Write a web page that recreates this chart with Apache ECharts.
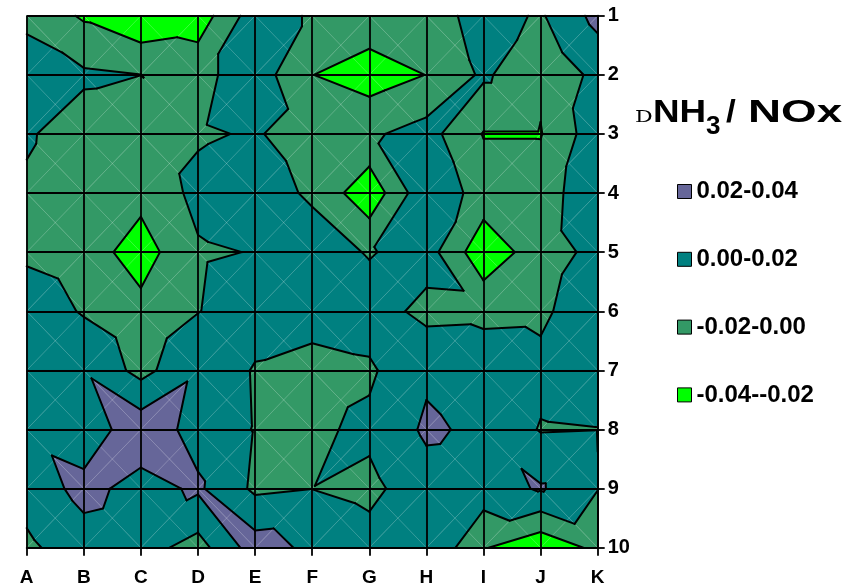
<!DOCTYPE html>
<html>
<head>
<meta charset="utf-8">
<script src="https://cdn.jsdelivr.net/npm/echarts@6/dist/echarts.min.js"></script>
<style>
  html, body { margin: 0; padding: 0; background: #ffffff; }
  #chart { width: 852px; height: 585px; }
</style>
</head>
<body>
<div id="chart"></div>
<script>
// Grid axes
const columns = ['A', 'B', 'C', 'D', 'E', 'F', 'G', 'H', 'I', 'J', 'K'];
const rows = [1, 2, 3, 4, 5, 6, 7, 8, 9, 10];

// dNH3 / NOx at each grid node, one array per row (columns A..K)
const r1  = [-0.005, -0.0226, -0.037, -0.0315, 0.011, -0.0024, -0.0073, -0.01, 0.0082, -0.0023, 0.0263];
const r2  = [0.011, 0.003, 0.0001, -0.006, 0.011, -0.0197, -0.03, -0.0197, 0.0033, -0.016, 0.0053];
const r3  = [0.002, -0.009, -0.01, -0.002, 0.0015, -0.008, -0.003, 0.0077, -0.021, -0.021, 0.0123];
const r4  = [-0.0026, -0.01, -0.014, 0.0049, 0.0095, -0.003, -0.0339, 0.0157, -0.0085, -0.01, 0.015];
const r5  = [-0.004, -0.0103, -0.029, -0.002, 0.0006, 0.01, -0.0015, 0.009, -0.034, -0.0085, 0.005];
const r6  = [0.0127, -0.0019, -0.0142, -0.0006, 0.01, 0.008, 0.01, -0.0059, -0.0048, -0.004, 0.0142];
const r7  = [0.012, 0.018, -0.0063, 0.017, -0.0017, -0.0068, -0.003, 0.017, 0.0112, 0.0055, 0.008];
const r8  = [0.0152, 0.0076, 0.033, 0.0125, -0.001, -0.0036, 0.0041, 0.023, 0.016, -0.0012, -0.0003];
const r9  = [0.0081, 0.0261, 0.0128, 0.023, -0.0037, -0.0002, -0.005, 0.012, 0.0107, 0.022, 0.0005];
const r10 = [-0.004, 0.0114, 0.008, -0.0079, 0.0298, 0.0152, 0.0078, 0.0193, -0.0185, -0.0352, -0.0149];

// Contour bands (top of legend first)
const bandLabels = ['0.02-0.04', '0.00-0.02', '-0.02-0.00', '-0.04--0.02'];
const bandRanges = [[0.02, 0.04], [0.00, 0.02], [-0.02, 0.00], [-0.04, -0.02]];
const bandColors = ['#666699', '#008080', '#339966', '#00FF00'];
const levels = [-0.02, 0.00, 0.02];

const grid = [r1, r2, r3, r4, r5, r6, r7, r8, r9, r10];

// one data item per grid cell: [column index, row number of its top edge]
const cells = [];
for (let r = 0; r < rows.length - 1; r++) {
  for (let c = 0; c < columns.length - 1; c++) cells.push([c, rows[r]]);
}

// Corner nodes of a cell as [x, y, value], split into two triangles along
// the diagonal whose end values have the higher mean.
function cellTriangles(c, r) {
  const tl = [c, rows[r], grid[r][c]];
  const tr = [c + 1, rows[r], grid[r][c + 1]];
  const bl = [c, rows[r + 1], grid[r + 1][c]];
  const br = [c + 1, rows[r + 1], grid[r + 1][c + 1]];
  if (tl[2] + br[2] >= tr[2] + bl[2]) return [[tl, tr, br], [tl, bl, br]];
  return [[tl, tr, bl], [tr, br, bl]];
}

// Sutherland-Hodgman clip of a polygon against value >= level (or <= level)
function clipPoly(poly, level, keepAbove) {
  const out = [];
  for (let i = 0; i < poly.length; i++) {
    const a = poly[i], b = poly[(i + 1) % poly.length];
    const ina = keepAbove ? a[2] >= level : a[2] <= level;
    const inb = keepAbove ? b[2] >= level : b[2] <= level;
    if (ina) out.push(a);
    if (ina !== inb) {
      const t = (level - a[2]) / (b[2] - a[2]);
      out.push([a[0] + t * (b[0] - a[0]), a[1] + t * (b[1] - a[1]), level]);
    }
  }
  return out;
}

function bandRenderer(b) {
  const lo = b === bandRanges.length - 1 ? -Infinity : bandRanges[b][0];
  const hi = b === 0 ? Infinity : bandRanges[b][1];
  return function (params, api) {
    const c = api.value(0), r = api.value(1) - 1;
    const children = [];
    cellTriangles(c, r).forEach(function (tri) {
      let poly = clipPoly(tri, lo, true);
      if (poly.length) poly = clipPoly(poly, hi, false);
      if (poly.length >= 3) {
        children.push({
          type: 'polygon',
          shape: { points: poly.map(p => api.coord([p[0], p[1]])) },
          style: { fill: bandColors[b], stroke: bandColors[b], lineWidth: 0.7 }
        });
      }
    });
    return { type: 'group', children: children };
  };
}

// faint X across every cell
function diagonalRenderer(params, api) {
  const c = api.value(0), y = api.value(1);
  const p1 = api.coord([c, y]), p2 = api.coord([c + 1, y + 1]);
  const p3 = api.coord([c + 1, y]), p4 = api.coord([c, y + 1]);
  const style = { stroke: 'rgba(255,255,255,0.28)', lineWidth: 0.8 };
  return {
    type: 'group',
    children: [
      { type: 'line', shape: { x1: p1[0], y1: p1[1], x2: p2[0], y2: p2[1] }, style: style },
      { type: 'line', shape: { x1: p3[0], y1: p3[1], x2: p4[0], y2: p4[1] }, style: style }
    ]
  };
}

// iso-lines at each band boundary
function contourRenderer(params, api) {
  const c = api.value(0), r = api.value(1) - 1;
  const children = [];
  cellTriangles(c, r).forEach(function (tri) {
    levels.forEach(function (L) {
      const pts = [];
      for (let i = 0; i < 3; i++) {
        const a = tri[i], b = tri[(i + 1) % 3];
        if ((a[2] < L) !== (b[2] < L)) {
          const t = (L - a[2]) / (b[2] - a[2]);
          pts.push(api.coord([a[0] + t * (b[0] - a[0]), a[1] + t * (b[1] - a[1])]));
        }
      }
      if (pts.length === 2) {
        children.push({
          type: 'line',
          shape: { x1: pts[0][0], y1: pts[0][1], x2: pts[1][0], y2: pts[1][1] },
          style: { stroke: '#000000', lineWidth: 2, lineCap: 'round' }
        });
      }
    });
  });
  return { type: 'group', children: children };
}

const bandSeries = bandLabels.map(function (name, b) {
  return {
    type: 'custom',
    name: name,
    coordinateSystem: 'cartesian2d',
    renderItem: bandRenderer(b),
    data: cells,
    itemStyle: { color: bandColors[b] },
    silent: true,
    z: 1
  };
});

const labelFont = 'Liberation Sans';
const titleFont = 'bold 32px "Liberation Sans"';

const chart = echarts.init(document.getElementById('chart'), null, { renderer: 'canvas' });
chart.setOption({
  animation: false,
  backgroundColor: '#ffffff',
  grid: {
    left: 26.7, right: 254.3, top: 15.7, bottom: 37.3,
    containLabel: false, outerBoundsMode: 'none'
  },
  xAxis: {
    type: 'value', min: 0, max: columns.length - 1, interval: 1, position: 'bottom', z: 10,
    axisLine: { show: true, onZero: false, lineStyle: { color: '#000', width: 1.8 } },
    axisTick: { show: true, inside: false, length: 8, lineStyle: { color: '#000', width: 1.8 } },
    axisLabel: {
      show: true, showMinLabel: true, showMaxLabel: true, margin: 21,
      formatter: function (v) { return columns[v] || ''; },
      color: '#000', fontSize: 19, fontWeight: 'bold', fontFamily: labelFont
    },
    splitLine: { show: true, lineStyle: { color: '#000', width: 1.8 } }
  },
  yAxis: {
    type: 'value', min: rows[0], max: rows[rows.length - 1], interval: 1, inverse: true,
    position: 'right', z: 10,
    axisLine: { show: true, onZero: false, lineStyle: { color: '#000', width: 1.8 } },
    axisTick: { show: true, inside: false, length: 7, lineStyle: { color: '#000', width: 1.8 } },
    axisLabel: {
      show: true, showMinLabel: true, showMaxLabel: true, margin: 10,
      color: '#000', fontSize: 20, fontWeight: 'bold', fontFamily: labelFont
    },
    splitLine: { show: true, lineStyle: { color: '#000', width: 1.8 } }
  },
  legend: {
    data: bandLabels,
    orient: 'vertical',
    left: 677, top: 179.5, padding: 0,
    itemWidth: 14, itemHeight: 14, itemGap: 43.8,
    icon: 'rect',
    selectedMode: false,
    itemStyle: { borderColor: '#000', borderWidth: 1 },
    textStyle: { color: '#000', fontSize: 24, fontWeight: 'bold', fontFamily: labelFont, lineHeight: 24 }
  },
  graphic: [
    { type: 'text', x: 635, y: 117.5, scaleX: 1.3, silent: true,
      style: { text: 'D', font: '17px "DejaVu Serif"', fill: '#000', verticalAlign: 'middle' } },
    { type: 'text', x: 653, y: 112.7, scaleX: 1.15, silent: true,
      style: { text: 'NH', font: titleFont, fill: '#000', verticalAlign: 'middle' } },
    { type: 'text', x: 706, y: 127, silent: true,
      style: { text: '3', font: 'bold 26px "Liberation Sans"', fill: '#000', verticalAlign: 'middle' } },
    { type: 'text', x: 726, y: 112.7, scaleX: 1.1, silent: true,
      style: { text: '/', font: titleFont, fill: '#000', verticalAlign: 'middle' } },
    { type: 'text', x: 748, y: 112.7, scaleX: 1.43, silent: true,
      style: { text: 'NOx', font: titleFont, fill: '#000', verticalAlign: 'middle' } }
  ],
  series: bandSeries.concat([
    {
      type: 'custom', name: 'diagonals', coordinateSystem: 'cartesian2d',
      renderItem: diagonalRenderer, data: cells, silent: true, z: 2
    },
    {
      type: 'custom', name: 'contours', coordinateSystem: 'cartesian2d',
      renderItem: contourRenderer, data: cells, silent: true, z: 3
    }
  ])
});
</script>
</body>
</html>
